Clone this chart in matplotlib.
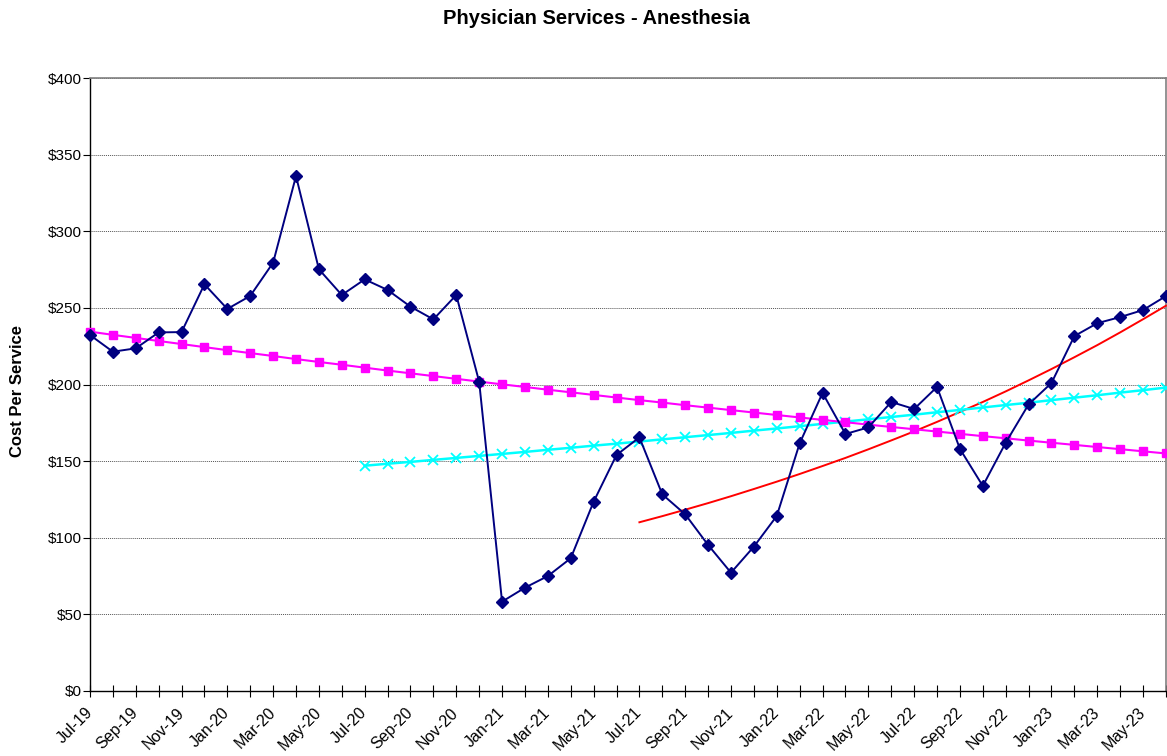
import numpy as np
import matplotlib
matplotlib.use("Agg")
from matplotlib import pyplot as plt
from matplotlib.ticker import FuncFormatter, MultipleLocator

plt.rcParams['font.family'] = ['Liberation Sans', 'DejaVu Sans']

# monthly cost per service, Jul-19 .. Jun-23
months = ["Jul-19", "Aug-19", "Sep-19", "Oct-19", "Nov-19", "Dec-19",
          "Jan-20", "Feb-20", "Mar-20", "Apr-20", "May-20", "Jun-20",
          "Jul-20", "Aug-20", "Sep-20", "Oct-20", "Nov-20", "Dec-20",
          "Jan-21", "Feb-21", "Mar-21", "Apr-21", "May-21", "Jun-21",
          "Jul-21", "Aug-21", "Sep-21", "Oct-21", "Nov-21", "Dec-21",
          "Jan-22", "Feb-22", "Mar-22", "Apr-22", "May-22", "Jun-22",
          "Jul-22", "Aug-22", "Sep-22", "Oct-22", "Nov-22", "Dec-22",
          "Jan-23", "Feb-23", "Mar-23", "Apr-23", "May-23", "Jun-23"]

cost = [232.3, 221.4, 223.6, 234.0, 234.2, 265.4,
        249.3, 257.8, 279.5, 336.0, 275.2, 258.4,
        268.6, 261.7, 250.8, 242.5, 258.4, 201.8,
        58.3, 67.4, 75.0, 86.6, 123.5, 154.0,
        165.5, 128.3, 115.3, 95.3, 77.2, 94.2,
        114.2, 161.6, 194.5, 167.7, 172.0, 188.6,
        184.0, 198.4, 158.0, 133.8, 162.0, 187.0,
        201.0, 231.6, 240.0, 244.0, 248.6, 257.7]

# 48-month trend (all months)
trend_48 = [234.5, 232.4, 230.4, 228.4, 226.4, 224.4,
            222.4, 220.5, 218.6, 216.6, 214.7, 212.9,
            211.0, 209.1, 207.3, 205.5, 203.7, 201.9,
            200.1, 198.4, 196.6, 194.9, 193.2, 191.5,
            189.8, 188.2, 186.5, 184.9, 183.3, 181.7,
            180.1, 178.5, 176.9, 175.4, 173.8, 172.3,
            170.8, 169.3, 167.8, 166.3, 164.9, 163.4,
            162.0, 160.6, 159.2, 157.8, 156.4, 155.0]

# 36-month trend, starts Jul-20
trend_36 = [147.0, 148.3, 149.5, 150.8, 152.1, 153.4,
            154.7, 156.0, 157.4, 158.7, 160.1, 161.4,
            162.8, 164.2, 165.6, 167.0, 168.4, 169.9,
            171.3, 172.8, 174.3, 175.8, 177.3, 178.8,
            180.3, 181.9, 183.4, 185.0, 186.6, 188.1,
            189.8, 191.4, 193.0, 194.7, 196.3, 198.0]

# 24-month trend, starts Jul-21
trend_24 = [110.1, 114.1, 118.3, 122.6, 127.1, 131.8,
            136.6, 141.6, 146.8, 152.1, 157.7, 163.5,
            169.4, 175.6, 182.1, 188.6, 195.5, 202.7,
            210.1, 217.8, 225.7, 234.0, 242.6, 251.4]

x = np.arange(len(months))
x36 = x[len(months) - len(trend_36):]
x24 = x[len(months) - len(trend_24):]

fig = plt.figure(figsize=(11.67, 7.56), dpi=100)
ax = fig.add_axes([0.0771, 0.086, 0.922, 0.8108])

ax.plot(x24, trend_24, color="#FF0000", lw=1.4, zorder=3, clip_on=False)
ax.plot(x36, trend_36, color="#00FFFF", lw=1.8, marker="x", ms=6.5, mew=1.3, zorder=4, clip_on=False)
ax.plot(x, trend_48, color="#FF00FF", lw=1.5, marker="s", ms=6.3, zorder=5, clip_on=False)
ax.plot(x, cost, color="#000080", lw=1.4, marker="D", ms=5.8, zorder=6, clip_on=False)

ax.set_xlim(0, len(months) - 1)
ax.set_ylim(0, 400)
ax.yaxis.set_major_locator(MultipleLocator(50))
ax.yaxis.set_major_formatter(FuncFormatter(lambda v, p: "${:,.0f}".format(v)))
ax.grid(axis="y", color="#555555", linestyle=(0, (1, 1)), linewidth=0.7)
ax.set_axisbelow(True)

ax.set_xticks(x)
ax.set_xticklabels([m if i % 2 == 0 else "" for i, m in enumerate(months)],
                   rotation=45, ha="right", va="center", rotation_mode="anchor")
ax.tick_params(axis="x", direction="inout", length=8, width=0.8, pad=10, labelsize=11.5)
ax.tick_params(axis="y", direction="out", length=5, width=0.8, pad=0.5, labelsize=11)

for s in ["left", "bottom"]:
    ax.spines[s].set_color("black")
    ax.spines[s].set_linewidth(1.0)
for s in ["top", "right"]:
    ax.spines[s].set_color("#808080")
    ax.spines[s].set_linewidth(1.2)

ax.set_ylabel("Cost Per Service", fontsize=12, fontweight="bold")
ax.yaxis.set_label_coords(-0.060, 0.49)
fig.suptitle("Physician Services - Anesthesia", x=0.511, fontsize=14.5, fontweight="bold", y=0.988)

fig.savefig("out.png", dpi=100)
